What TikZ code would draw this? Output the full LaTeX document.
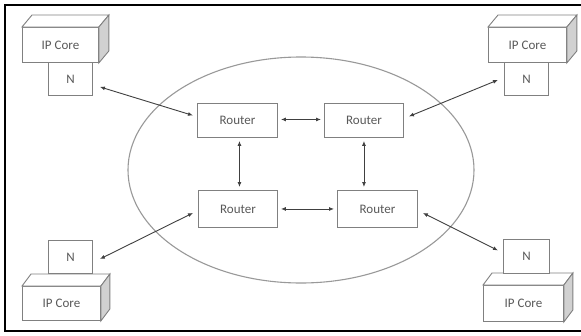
\documentclass[tikz,border=0pt]{standalone}
\usepackage{fontspec}
\setmainfont{Carlito}
\usetikzlibrary{arrows.meta,calc}

\tikzset{
  box/.style={draw=black!50, line width=0.9pt, fill=white, inner sep=0pt,
              font=\fontsize{13}{15}\selectfont, text=black!65},
  side/.style={draw=black!50, line width=0.9pt, fill=black!18},
  lid/.style={draw=black!50, line width=0.9pt, fill=white},
  link/.style={draw=black!75, line width=0.9pt,
               {Latex[length=5pt,width=4pt]}-{Latex[length=5pt,width=4pt]}},
}

% IP core block: front face node plus a top and right face
\newcommand{\ipblock}[6]{% name, x1, y1, x2, y2, depth-x
  \node[box, minimum width=#4-#2, minimum height=#5-#3, anchor=north west]
    (#1) at (#2,#3) {IP Core};
  \draw[lid] (#1.north west) -- ++(#6,-12) -- ($(#1.north east)+(#6,-12)$) -- (#1.north east) -- cycle;
  \draw[side] (#1.north east) -- ++(#6,-12) -- ($(#1.south east)+(#6,-12)$) -- (#1.south east) -- cycle;
}

\begin{document}
\begin{tikzpicture}[x=1pt,y=-1pt]
  \useasboundingbox (0,0) rectangle (581,335);
  \fill[white] (0,0) rectangle (581,335);

  % outer frame
  \draw[black, line width=2pt] (581,5) -- (5,5) -- (5,331) -- (581,331);

  % network-on-chip region
  \draw[black!40, line width=1.1pt] (301,170) ellipse [x radius=173, y radius=113];

  % IP cores
  \ipblock{ipTL}{22}{27}{98}{62}{10}
  \ipblock{ipTR}{488}{27}{566}{62}{10}
  \ipblock{ipBL}{22}{286}{100}{320}{9}
  \ipblock{ipBR}{483}{285}{563}{321}{9}

  % network interfaces
  \node[box, minimum width=44, minimum height=33, anchor=north west] (nTL) at (48,62) {N};
  \node[box, minimum width=44, minimum height=33, anchor=north west] (nTR) at (504,62) {N};
  \node[box, minimum width=44, minimum height=33, anchor=north west] (nBL) at (48,240) {N};
  \node[box, minimum width=46, minimum height=34, anchor=north west] (nBR) at (503,239) {N};

  % routers
  \node[box, minimum width=80, minimum height=34, anchor=north west] (r1) at (197,103) {Router};
  \node[box, minimum width=79, minimum height=34, anchor=north west] (r2) at (324,103) {Router};
  \node[box, minimum width=79, minimum height=37, anchor=north west] (r3) at (198,190) {Router};
  \node[box, minimum width=80, minimum height=37, anchor=north west] (r4) at (337,190) {Router};

  % links between routers
  \coordinate (v1) at ($(r1.south)+(2,0)$);
  \draw[link, shorten <=3pt, shorten >=3pt] ($(r1.east)+(0,-1)$) -- ($(r2.west)+(0,-1)$);
  \draw[link, shorten <=3pt, shorten >=3pt] (r3.east) -- (r4.west);
  \draw[link, shorten <=3pt, shorten >=3pt] (v1) -- (v1 |- r3.north);
  \draw[link, shorten <=3pt, shorten >=3pt] (r2.south) -- (r2.south |- r4.north);

  % links from interfaces to routers
  \draw[link] ($(nTL.south east)+(7,-9)$) -- ($(r1.west)+(-4,-5)$);
  \draw[link] ($(nBL.north east)+(7,19)$) -- ($(r3.west)+(-5,4)$);
  \draw[link] ($(r2.east)+(5,-4)$) -- ($(nTR.west)+(-6,1)$);
  \draw[link] ($(r4.east)+(5,4)$) -- ($(nBR.west)+(-5,-6)$);
\end{tikzpicture}
\end{document}
